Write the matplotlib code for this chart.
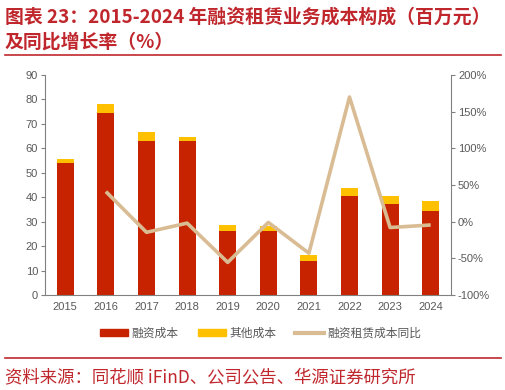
import matplotlib
matplotlib.use("Agg")
import matplotlib.pyplot as plt
from matplotlib.lines import Line2D
from matplotlib.patches import Patch
import numpy as np

plt.rcParams['font.family'] = ['Noto Sans CJK SC', 'DejaVu Sans']

years = ['2015', '2016', '2017', '2018', '2019', '2020', '2021', '2022', '2023', '2024']
financing_cost = [53.9, 74.6, 63.1, 62.9, 26.3, 26.2, 13.9, 40.4, 37.2, 34.5]
other_cost = [1.7, 3.7, 3.6, 1.7, 2.2, 2.2, 2.5, 3.3, 3.4, 3.8]
yoy_growth = [None, 41, -14.5, -2, -55.5, -1, -43, 170, -8, -4.5]

left_ticks = [0, 10, 20, 30, 40, 50, 60, 70, 80, 90]
right_ticks = [-100, -50, 0, 50, 100, 150, 200]

RED = '#C82300'
YEL = '#FFC000'
TAN = '#D9BC94'
GRAY = '#595959'
TITLE_RED = '#C0272D'
TICKFONT = ['Liberation Sans', 'DejaVu Sans']

fig = plt.figure(figsize=(5.06, 3.9), dpi=100)
ax = fig.add_axes([45/506, 1-295/390, (451-45)/506, (295-75)/390])
x = np.arange(len(years))
ax.bar(x, financing_cost, width=0.42, color=RED, zorder=2)
ax.bar(x, other_cost, width=0.42, bottom=financing_cost, color=YEL, zorder=2)
ax.set_xlim(-0.5, len(years)-0.5)
ax.set_ylim(0, 90)
ax.set_yticks(left_ticks)
ax.set_yticklabels([str(t) for t in left_ticks], family=TICKFONT)
ax.set_xticks(x)
ax.set_xticklabels(years, family=TICKFONT)
for s in ['top', 'right']:
    ax.spines[s].set_visible(False)
ax.spines['left'].set_color('#808080')
ax.spines['bottom'].set_color('#808080')
ax.tick_params(axis='y', colors='#808080', labelcolor=GRAY, labelsize=8, length=3, width=0.8, pad=2)
ax.tick_params(axis='x', colors='#808080', labelcolor=GRAY, labelsize=8, length=0, pad=5)

ax2 = ax.twinx()
xs = [i for i, v in enumerate(yoy_growth) if v is not None]
ys = [v for v in yoy_growth if v is not None]
ax2.plot(xs, ys, color=TAN, lw=2.6, zorder=3, solid_capstyle='butt')
ax2.set_ylim(-100, 200)
ax2.set_yticks(right_ticks)
ax2.set_yticklabels([f'{t}%' for t in right_ticks], family=TICKFONT)
for s in ['top', 'left', 'bottom']:
    ax2.spines[s].set_visible(False)
ax2.spines['right'].set_color('#808080')
ax2.tick_params(axis='y', colors='#808080', labelcolor=GRAY, labelsize=8, length=3, width=0.8, pad=2)

handles = [Patch(color=RED), Patch(color=YEL), Line2D([0], [0], color=TAN, lw=3)]
labels = ['融资成本', '其他成本', '融资租赁成本同比']
fig.legend(handles, labels, loc='center', bbox_to_anchor=(0.515, 1-333/390), ncol=3,
           frameon=False, fontsize=8.5, labelcolor=GRAY, handlelength=2.4, handleheight=0.5,
           columnspacing=1.6, handletextpad=0.3)

fig.text(5/506, 1-17/390, '图表 23：2015-2024 年融资租赁业务成本构成（百万元）', color=TITLE_RED,
         fontsize=13.6, fontweight='bold', va='center', ha='left')
fig.text(5/506, 1-42/390, '及同比增长率（%）', color=TITLE_RED,
         fontsize=13.6, fontweight='bold', va='center', ha='left')
fig.add_artist(Line2D([5/506, 501/506], [1-55/390, 1-55/390], color=TITLE_RED, lw=1.2))
fig.add_artist(Line2D([5/506, 501/506], [1-358/390, 1-358/390], color=TITLE_RED, lw=1.2))
fig.text(5/506, 1-377/390, '资料来源：同花顺 iFinD、公司公告、华源证券研究所', color=TITLE_RED,
         fontsize=12.5, va='center', ha='left')

fig.savefig('out.png', dpi=100)
